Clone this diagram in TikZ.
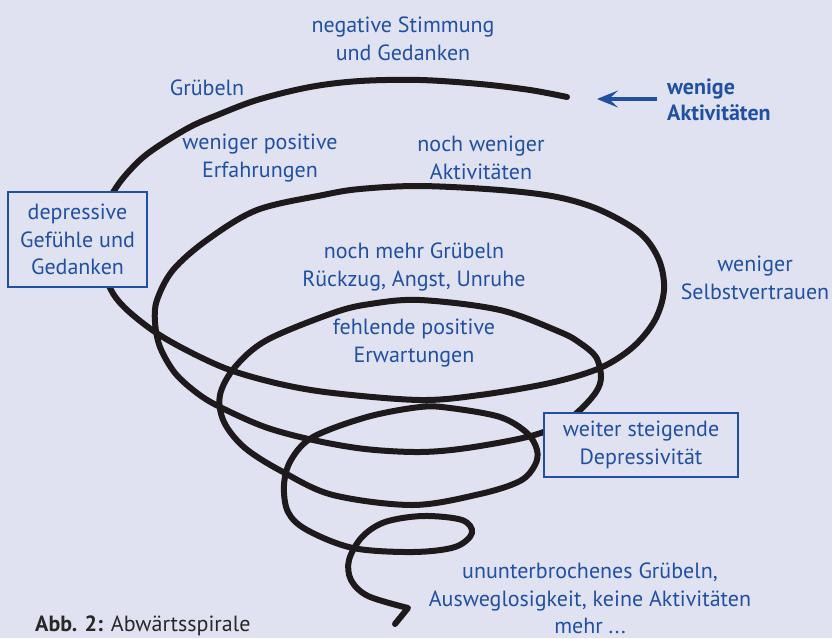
\documentclass[tikz,border=0pt]{standalone}
\usepackage{fontspec}
\setmainfont{PT Sans}
\usetikzlibrary{arrows.meta}
\definecolor{bg}{RGB}{225,226,241}
\definecolor{tblue}{RGB}{32,80,162}
\definecolor{capc}{RGB}{40,40,40}
\definecolor{ink}{RGB}{30,26,28}
\begin{document}
\begin{tikzpicture}[x=1pt,y=-1pt,
  lbl/.style={text=tblue, font=\fontsize{22}{27.5}\selectfont, align=center, inner sep=0pt},
  boxed/.style={lbl, draw=tblue, line width=1.6pt, fill=bg},
  spiral/.style={line width=6pt, line cap=round, line join=round, draw=ink},
  arr/.style={draw=tblue, line width=4pt, -{Stealth[length=21pt, width=17pt, inset=9pt]}}]
\fill[bg] (0,0) rectangle (832,638);
\useasboundingbox (0,0) rectangle (832,638);

\coordinate (spend) at (567,97);
\draw[spiral] plot[smooth, tension=0.55] coordinates {
(567,97) (530,90) (480,84) (420,80) (360,81) (310,87) (257,100) (215,116) (190,127) (160,145) (140,160) (120,182) (107,205) (101,235) (103,262) (110,288) (125,308) (155,332) (190,352) (230,370) (280,384) (333,393) (420,400) (480,395) (550,383) (600,368) (633,347) (655,320) (664,290) (659,260) (640,233) (600,210) (557,197) (500,190) (420,186) (360,189) (323,195) (257,210) (207,240) (173,270) (157,300) (155,322) (160,347) (175,373) (197,393) (220,407) (265,427) (313,440) (365,449) (420,452) (467,448) (527,437) (560,425) (580,410) (596,392) (601,377) (596,357) (580,343) (560,332) (500,310) (420,300) (370,304) (333,313) (267,340) (235,367) (220,395) (224,422) (245,448) (283,472) (333,495) (413,505) (480,494) (520,481) (535,465) (537,450) (527,433) (500,417) (450,408) (420,407) (367,417) (313,437) (291,460) (284,485) (288,512) (307,530) (353,548) (413,552) (455,547) (472,533) (462,520) (423,516) (385,522) (362,537) (349,560) (351,580) (368,596) (408,608)} -- (395,624);

\node[lbl] (neg) at (403,39) {negative Stimmung\\und Gedanken};
\node[lbl] (grub) at (207,88) {Grübeln};
\node[lbl, align=left, anchor=west, font=\fontsize{22}{26}\selectfont\bfseries] (wen) at (667,100) {wenige\\Aktivitäten};
\coordinate (arrbase) at (657,99);
\coordinate (arrtip) at (597,99);
\draw[arr] (arrbase) -- (arrtip);
\node[lbl] (wpos) at (260,158) {weniger positive\\Erfahrungen};
\node[lbl] (nochw) at (481,158) {noch weniger\\Aktivitäten};
\node[boxed, minimum width=139pt, minimum height=95pt] (dep) at (77.5,239.5) {depressive\\Gefühle und\\Gedanken};
\node[lbl] (mehr) at (414,267) {noch mehr Grübeln\\Rückzug, Angst, Unruhe};
\node[lbl] (selbst) at (755,278) {weniger\\Selbstvertrauen};
\node[lbl] (fehl) at (414,343) {fehlende positive\\Erwartungen};
\node[boxed, minimum width=194pt, minimum height=64pt] (weiter) at (641,445) {weiter steigende\\Depressivität};
\node[lbl, anchor=south] (unun) at (590,634) {ununterbrochenes Grübeln,\\Ausweglosigkeit, keine Aktivitäten\\mehr ...};
\node[anchor=base west, inner sep=0pt, text=capc, font=\fontsize{22}{24}\selectfont] (capt) at (35,631) {\textbf{Abb. 2:} Abwärtsspirale};
\end{tikzpicture}
\end{document}
